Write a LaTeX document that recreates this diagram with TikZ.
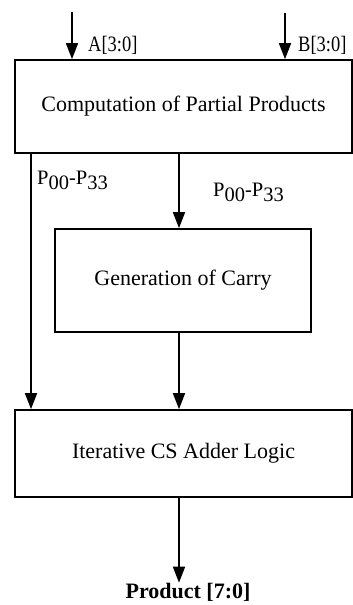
\documentclass[tikz,border=0pt]{standalone}
\usepackage{fontspec}
\setmainfont{Liberation Serif}
\usetikzlibrary{arrows.meta}
\newcommand{\psub}[1]{\raisebox{-0.27em}{#1}}
\newcommand{\narrow}[1]{\scalebox{0.84}[1]{#1}}
\begin{document}
\begin{tikzpicture}[x=1pt,y=-1pt,
  blockbox/.style={draw,line width=1.7pt,inner sep=0pt,font=\fontsize{22}{26}\selectfont},
  conn/.style={line width=1.7pt},
  arr/.style={conn,-{Triangle[length=16pt,width=12pt]}},
  lbl/.style={inner sep=0pt,font=\fontsize{22}{26}\selectfont},
  plbl/.style={inner sep=0pt,font=\fontsize{20.5}{24}\selectfont}]
\useasboundingbox (0,0) rectangle (353,605);
\node[blockbox,minimum width=337pt,minimum height=93pt] (cpp) at (183.5,106.5) {Computation of Partial Products};
\node[blockbox,minimum width=256pt,minimum height=103pt] (gen) at (183,280.5) {Generation of Carry};
\node[blockbox,minimum width=337pt,minimum height=87pt] (csa) at (183.5,453.5) {Iterative CS Adder Logic};
\coordinate (ain) at (72,12);
\coordinate (bin) at (285,13);
\node[lbl,anchor=base west] (alab) at (88,51) {\narrow{A[3:0]}};
\node[lbl,anchor=base west] (blab) at (298,51) {\narrow{B[3:0]}};
\draw[arr] (ain) -- (ain |- cpp.north);
\draw[arr] (bin) -- (bin |- cpp.north);
\coordinate (lft) at (31,0);
\draw[arr] (lft |- cpp.south) -- (lft |- csa.north);
\coordinate (mid) at (179,0);
\draw[arr] (mid |- cpp.south) -- (mid |- gen.north);
\draw[arr] (mid |- gen.south) -- (mid |- csa.north);
\node[plbl,anchor=base west] (pl) at (37,184) {P\psub{00}-P\psub{33}};
\node[plbl,anchor=base west] (pr) at (213,196) {P\psub{00}-P\psub{33}};
\node[lbl,font=\fontsize{22}{26}\selectfont\bfseries] (prod) at (188,592) {Product [7:0]};
\draw[arr] (mid |- csa.south) -- (prod.north -| mid);
\end{tikzpicture}
\end{document}
